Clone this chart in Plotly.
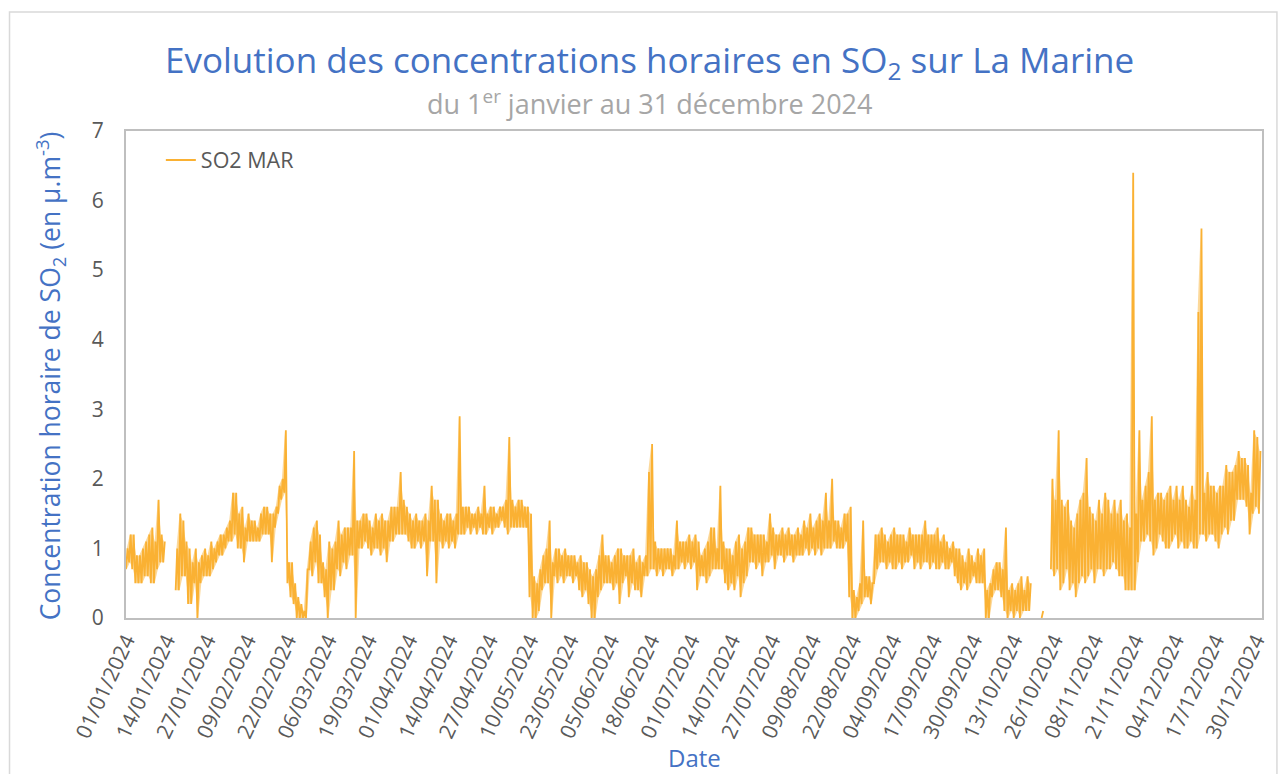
import plotly.graph_objects as go
import pandas as pd

# Daily lowest / highest hourly SO2 values (µg/m3), 2024-01-01 .. 2024-12-31
daily_low = [
    0.7,0.8,0.7,0.5,0.5,0.5,0.6,0.6,0.5,0.5,
    0.7,0.8,0.8,None,None,None,0.4,0.4,0.6,0.6,
    0.2,0.2,0.5,0.0,0.5,0.6,0.6,0.6,0.7,0.8,
    0.9,0.9,1.0,1.1,1.1,1.2,1.0,1.0,0.8,1.1,
    1.1,1.1,1.1,1.1,1.2,1.2,1.2,0.8,1.3,1.5,
    1.7,1.8,0.5,0.3,0.2,0.0,0.0,0.0,0.0,0.7,
    0.6,0.8,0.5,0.5,0.3,0.0,0.4,0.4,0.7,0.6,
    0.8,0.7,0.9,0.9,0.0,1.0,1.0,1.1,1.0,0.9,
    1.0,1.0,0.9,1.0,0.8,1.1,1.1,1.2,1.2,1.2,
    1.2,1.1,1.0,1.0,1.1,1.0,1.1,0.6,1.1,1.1,
    0.5,1.1,1.0,1.1,1.0,1.1,1.0,1.2,1.2,1.2,
    1.3,1.2,1.3,1.2,1.3,1.2,1.2,1.3,1.2,1.3,
    1.3,1.4,1.3,1.2,1.3,1.3,1.3,1.3,1.3,1.3,
    0.3,0.0,0.0,0.1,0.4,0.5,0.5,0.0,0.6,0.5,
    0.6,0.5,0.6,0.6,0.5,0.6,0.4,0.3,0.4,0.2,
    0.0,0.0,0.3,0.4,0.5,0.5,0.5,0.4,0.5,0.2,
    0.5,0.6,0.3,0.5,0.4,0.4,0.3,0.6,0.6,0.7,
    0.7,0.6,0.7,0.6,0.7,0.7,0.6,0.7,0.7,0.8,
    0.7,0.8,0.7,0.8,0.4,0.6,0.6,0.5,0.6,0.7,
    0.7,0.7,0.7,0.5,0.4,0.5,0.4,0.6,0.3,0.5,
    0.6,0.8,0.8,0.7,0.8,0.6,0.8,0.8,0.9,0.7,
    0.9,0.9,0.8,0.9,0.9,0.8,0.9,0.9,0.9,1.0,
    0.9,1.0,0.9,1.0,0.9,1.0,1.0,1.0,1.1,1.0,
    1.0,1.0,1.1,0.3,0.0,0.0,0.1,0.2,0.3,0.3,
    0.2,0.5,0.7,0.8,0.8,0.7,0.8,0.7,0.7,0.8,
    0.7,0.8,0.8,0.9,0.7,0.8,0.7,0.8,0.8,0.7,
    0.8,0.7,0.7,0.8,0.7,0.7,0.8,0.6,0.5,0.4,
    0.5,0.4,0.5,0.6,0.5,0.5,0.5,0.0,0.0,0.3,
    0.4,0.4,0.3,0.1,0.0,0.1,0.0,0.1,0.0,0.1,
    0.1,0.1,None,None,None,0.0,None,None,0.7,0.6,
    0.7,0.4,0.5,0.7,0.4,0.5,0.3,0.5,0.6,0.5,
    0.6,0.7,0.5,0.7,0.7,0.6,0.7,0.7,0.8,0.7,
    0.6,0.6,0.4,0.4,0.4,0.4,0.8,1.1,1.1,1.2,
    1.1,0.9,1.0,1.2,1.1,1.0,1.0,1.1,1.2,1.0,
    1.1,1.0,1.0,1.1,1.0,1.0,1.2,1.2,1.1,1.2,
    1.2,1.1,1.0,1.2,1.3,1.2,1.4,1.4,1.7,1.7,
    1.7,1.6,1.2,1.5,1.6,1.5,
]

daily_high = [
    1.0,1.2,1.2,0.9,0.9,1.0,1.1,1.2,1.3,1.1,
    1.7,1.2,1.1,None,None,None,1.0,1.5,1.4,1.1,
    1.0,0.8,1.0,0.8,0.9,1.0,0.9,1.1,1.0,1.1,
    1.2,1.2,1.3,1.4,1.8,1.8,1.5,1.6,1.3,1.5,
    1.4,1.4,1.3,1.5,1.6,1.6,1.5,1.5,1.6,1.9,
    2.0,2.7,0.8,0.8,0.5,0.3,0.2,0.1,0.7,1.1,
    1.3,1.4,1.2,0.8,0.7,1.1,1.0,1.1,1.4,1.2,
    1.3,1.3,1.3,2.4,1.4,1.4,1.5,1.5,1.4,1.3,
    1.5,1.4,1.5,1.4,1.4,1.6,1.6,1.6,2.1,1.7,
    1.6,1.5,1.4,1.5,1.4,1.4,1.5,1.4,1.9,1.7,
    1.7,1.5,1.4,1.5,1.5,1.4,1.5,2.9,1.6,1.6,
    1.6,1.5,1.5,1.6,1.5,1.9,1.5,1.6,1.6,1.5,
    1.6,1.6,1.7,2.6,1.7,1.6,1.7,1.7,1.6,1.6,
    1.5,0.6,0.5,0.7,0.9,1.0,1.4,0.8,1.0,1.0,
    0.9,1.0,0.9,0.9,0.9,0.8,0.9,0.8,0.8,0.7,
    0.6,0.7,0.9,1.2,0.9,0.9,0.8,0.9,1.0,1.0,
    0.9,0.9,0.9,1.0,0.8,0.9,0.8,0.9,2.1,2.5,
    1.1,1.0,1.0,1.0,1.0,1.0,0.9,1.4,1.1,1.1,
    1.1,1.2,1.1,1.2,1.1,0.9,1.0,1.1,1.3,1.3,
    1.0,1.9,1.1,1.0,1.0,0.9,1.1,1.2,1.0,1.1,
    1.3,1.3,1.2,1.2,1.2,1.2,1.1,1.5,1.3,1.2,
    1.2,1.3,1.2,1.3,1.2,1.2,1.3,1.2,1.4,1.3,
    1.5,1.3,1.4,1.5,1.4,1.8,1.4,2.0,1.4,1.4,
    1.3,1.5,1.5,1.6,0.4,0.3,0.5,1.4,0.6,0.6,
    0.5,1.2,1.2,1.3,1.2,1.1,1.2,1.3,1.2,1.2,
    1.2,1.1,1.3,1.2,1.2,1.2,1.2,1.4,1.2,1.2,
    1.2,1.3,1.1,1.2,1.1,1.0,1.1,1.0,1.0,0.9,
    0.8,1.0,0.9,0.8,1.0,0.9,1.0,0.4,0.5,0.7,
    0.8,0.8,0.7,1.3,0.4,0.5,0.4,0.5,0.6,0.4,
    0.6,0.5,None,None,None,0.1,None,None,2.0,1.7,
    2.7,1.7,1.6,1.7,1.4,1.3,1.5,1.7,1.8,2.3,
    1.6,1.5,1.4,1.7,1.5,1.8,1.7,1.5,1.7,1.5,
    1.7,1.4,1.5,1.3,6.4,1.5,2.7,1.7,1.9,2.1,
    2.9,1.7,1.8,1.8,1.7,1.8,1.9,1.7,1.9,1.7,
    1.9,1.7,1.6,1.9,1.7,4.4,5.6,1.8,2.1,1.9,
    1.9,1.8,1.9,1.9,2.2,2.1,2.1,2.2,2.4,2.3,
    2.3,2.2,1.8,2.7,2.6,2.4,
]

tick_labels = [
    "01/01/2024","14/01/2024","27/01/2024","09/02/2024","22/02/2024","06/03/2024",
    "19/03/2024","01/04/2024","14/04/2024","27/04/2024","10/05/2024","23/05/2024",
    "05/06/2024","18/06/2024","01/07/2024","14/07/2024","27/07/2024","09/08/2024",
    "22/08/2024","04/09/2024","17/09/2024","30/09/2024","13/10/2024","26/10/2024",
    "08/11/2024","21/11/2024","04/12/2024","17/12/2024","30/12/2024",
]
y_ticks = [0, 1, 2, 3, 4, 5, 6, 7]

series_name = "SO2 MAR"
line_color = "#FAB133"
band_color = "rgba(250,177,51,0.5)"
blue = "#4472C4"
grey_text = "#595959"
font_family = "Open Sans, Noto Sans, sans-serif"

start = pd.Timestamp("2024-01-01")
days = [start + pd.Timedelta(days=d) for d in range(len(daily_low))]

# zigzag line: daily low at 00h, daily high at 12h
xs, ys = [], []
for t0, lo, hi in zip(days, daily_low, daily_high):
    xs += [t0, t0 + pd.Timedelta(hours=12)]
    ys += [lo, hi]

# shaded band between daily low and high, one closed polygon per contiguous run of days
bx, by = [], []
run = []
for i in range(len(days) + 1):
    if i < len(days) and daily_low[i] is not None:
        run.append(i)
        continue
    if run:
        fwd_x = [days[k] + pd.Timedelta(hours=6) for k in run]
        bx += fwd_x + fwd_x[::-1] + [None]
        by += [daily_high[k] for k in run] + [daily_low[k] for k in run[::-1]] + [None]
        run = []

tick_vals = [pd.to_datetime(t, format="%d/%m/%Y") for t in tick_labels]

fig = go.Figure()
fig.add_trace(go.Scatter(x=bx, y=by, mode="lines", line=dict(width=0, color=line_color),
                         fill="toself", fillcolor=band_color,
                         showlegend=False, hoverinfo="skip", connectgaps=False))
fig.add_trace(go.Scatter(
    x=xs, y=ys, mode="lines", name=series_name,
    line=dict(color=line_color, width=1.8), connectgaps=False,
))

W, H = 1283, 774
L, R, T, B = 126, 16, 131, 156
pw, ph = W - L - R, H - T - B

def px(x):
    return (x - L) / pw

def py(y):
    return (H - B - y) / ph

fig.update_layout(
    width=W, height=H,
    margin=dict(l=L, r=R, t=T, b=B),
    paper_bgcolor="white", plot_bgcolor="white",
    font=dict(family=font_family, color=grey_text),
    showlegend=True,
    legend=dict(x=px(161), y=py(160), xanchor="left", yanchor="middle",
                bgcolor="rgba(0,0,0,0)", font=dict(size=21.5, color=grey_text)),
    xaxis=dict(
        type="date",
        range=[start, start + pd.Timedelta(days=366)],
        tickvals=tick_vals, ticktext=tick_labels, tickangle=-65,
        tickfont=dict(size=21, color=grey_text),
        showgrid=False, zeroline=False,
        showline=True, mirror=True, linecolor="#BFBFBF", linewidth=2,
        ticks="",
    ),
    yaxis=dict(
        range=[0, 7], tickvals=y_ticks,
        tickfont=dict(size=21, color=grey_text),
        showgrid=False, zeroline=False,
        showline=True, mirror=True, linecolor="#BFBFBF", linewidth=2,
        ticks="", ticklabelstandoff=16,
    ),
    annotations=[
        dict(text="Evolution des concentrations horaires en SO<sub>2</sub> sur La Marine",
             xref="paper", yref="paper", x=px(652), y=py(62),
             xanchor="center", yanchor="middle", showarrow=False,
             font=dict(size=35, color=blue)),
        dict(text="du 1<sup>er</sup> janvier au 31 décembre 2024",
             xref="paper", yref="paper", x=px(652), y=py(102),
             xanchor="center", yanchor="middle", showarrow=False,
             font=dict(size=27, color="#A6A6A6")),
        dict(text="Concentration horaire de SO<sub>2</sub> (en µ.m<sup>-3</sup>)",
             xref="paper", yref="paper", x=px(50), y=py(376), textangle=-90,
             xanchor="center", yanchor="middle", showarrow=False,
             font=dict(size=26.5, color=blue)),
        dict(text="Date",
             xref="paper", yref="paper", x=px(697), y=py(757),
             xanchor="center", yanchor="middle", showarrow=False,
             font=dict(size=24, color=blue)),
    ],
    shapes=[
        dict(type="rect", xref="paper", yref="paper",
             x0=px(9), x1=px(1282), y0=py(790), y1=py(12),
             line=dict(color="#D9D9D9", width=1.5), fillcolor="rgba(0,0,0,0)", layer="below"),
    ],
)

fig.write_html("out.html", config={"displayModeBar": False},
               post_script="document.body.style.margin='0px';")
